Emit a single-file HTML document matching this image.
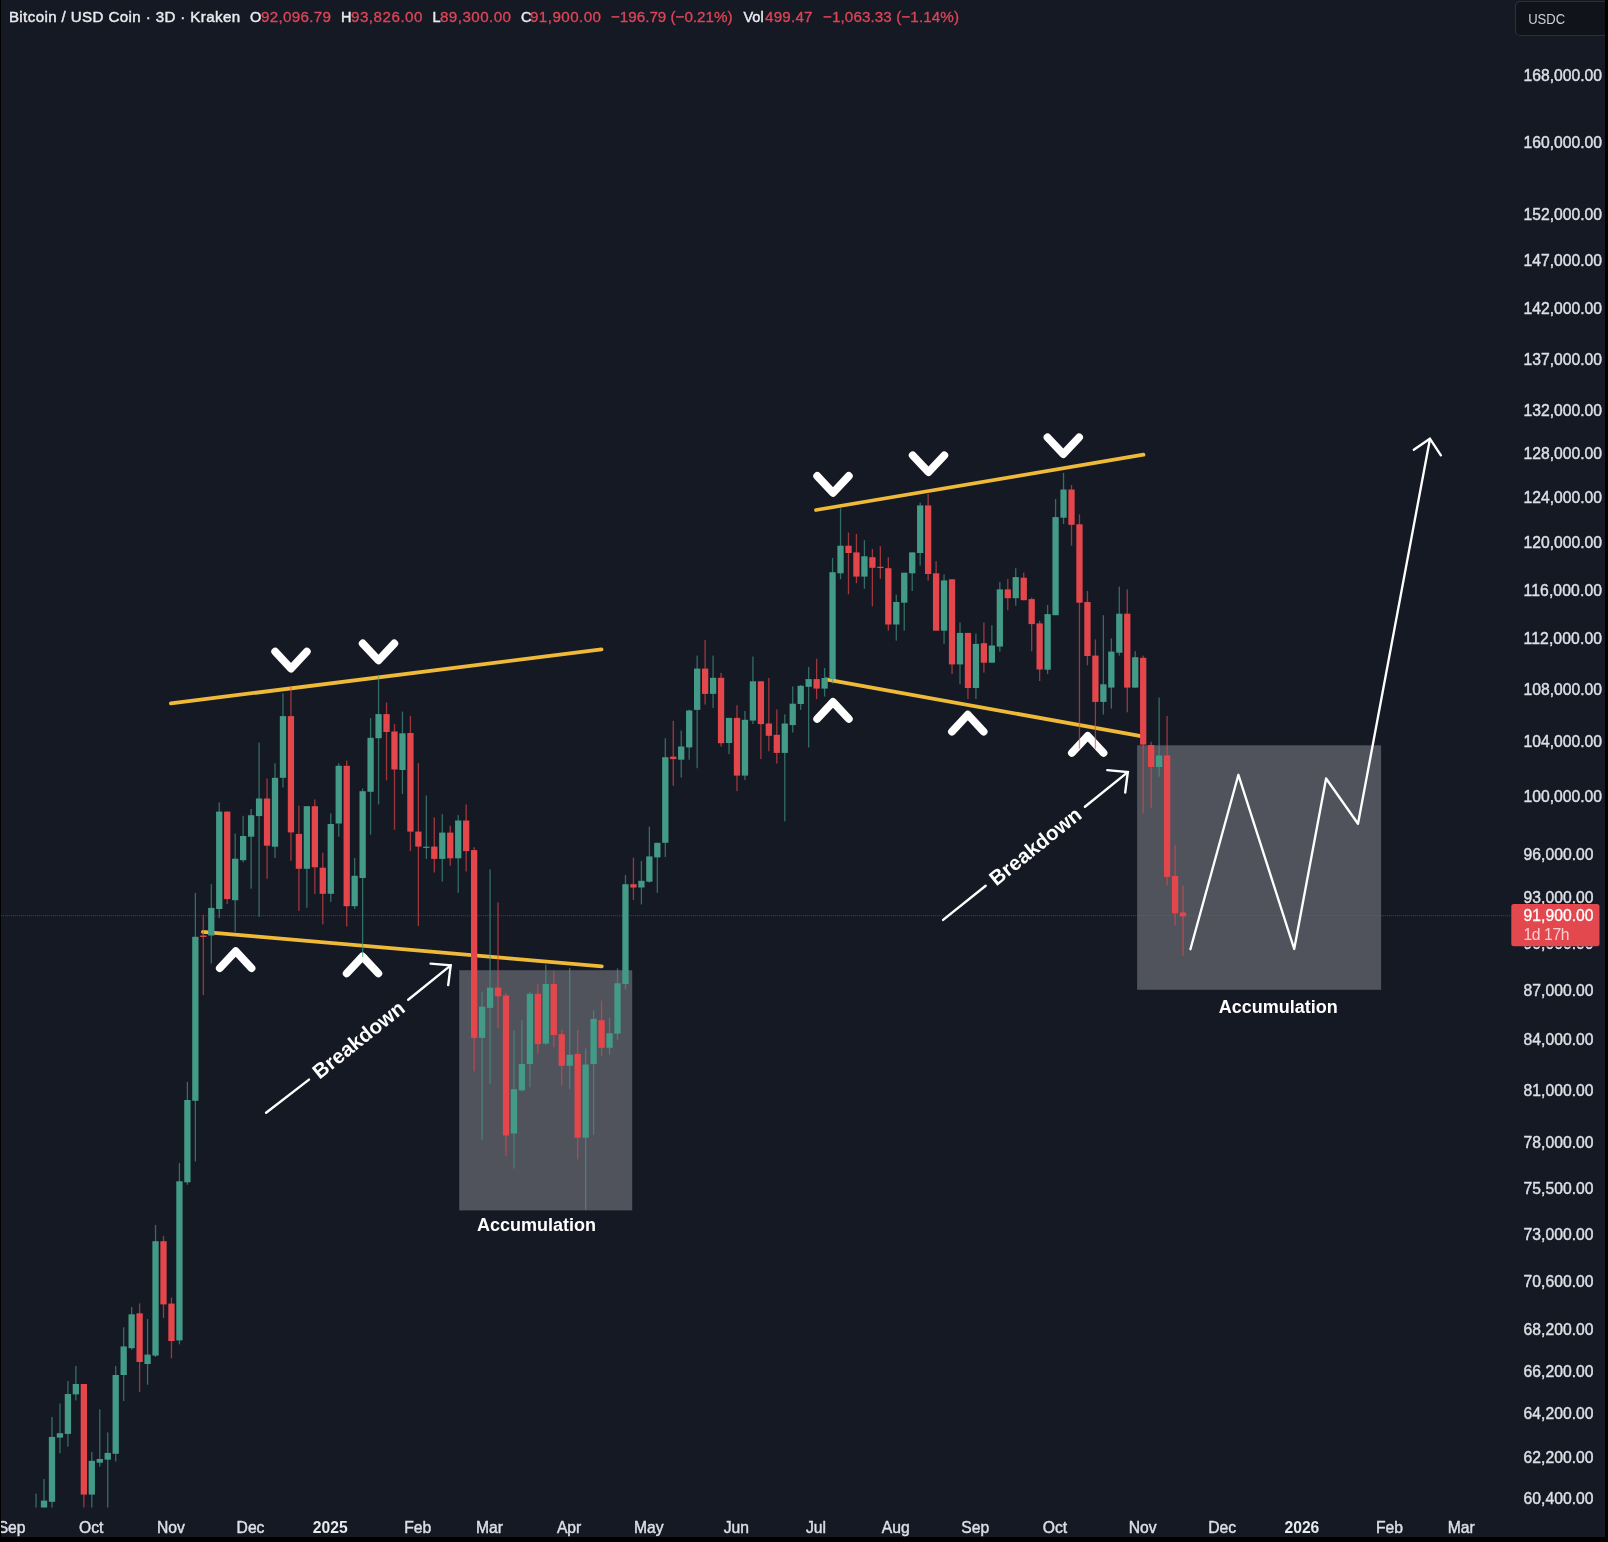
<!DOCTYPE html>
<html lang="en"><head><meta charset="utf-8"><title>Bitcoin / USD Coin chart</title>
<style>html,body{margin:0;padding:0;background:#151924;}body{width:1608px;height:1542px;overflow:hidden;}svg{display:block;filter:blur(0.45px);}text{font-family:"Liberation Sans", Arial, sans-serif;}</style>
</head><body>
<svg width="1608" height="1542" viewBox="0 0 1608 1542">
<defs><clipPath id="chartclip"><rect x="0" y="0" width="1510" height="1507.5"/></clipPath>
<clipPath id="lblclip"><rect x="1500" y="946.4" width="108" height="20"/></clipPath></defs>
<rect x="0" y="0" width="1608" height="1542" fill="#000"/>
<rect x="1" y="0" width="1604" height="1537" fill="#151924"/>
<rect x="459.2" y="970.2" width="173" height="240.2" fill="#50525c"/>
<rect x="1137.1" y="745.3" width="244" height="244.5" fill="#50525c"/>
<line x1="1" y1="915.6" x2="1137" y2="915.6" stroke="#7d2c58" stroke-width="1.3" stroke-dasharray="1.2 0.8" opacity="0.6"/>
<line x1="1137" y1="915.6" x2="1381" y2="915.6" stroke="#c2566a" stroke-width="1.3" stroke-dasharray="1 1" opacity="0.3"/>
<line x1="1381" y1="915.6" x2="1511" y2="915.6" stroke="#7d2c58" stroke-width="1.3" stroke-dasharray="1.2 0.8" opacity="0.6"/>
<line x1="170.9" y1="703.4" x2="601.5" y2="649.3" stroke="#f0ba39" stroke-width="3.8" stroke-linecap="round"/>
<line x1="202.9" y1="931.8" x2="601.8" y2="966.4" stroke="#f0ba39" stroke-width="3.8" stroke-linecap="round"/>
<line x1="816.0" y1="510.0" x2="1143.5" y2="454.7" stroke="#f0ba39" stroke-width="3.8" stroke-linecap="round"/>
<line x1="826.0" y1="679.3" x2="1141.0" y2="736.2" stroke="#f0ba39" stroke-width="3.8" stroke-linecap="round"/>
<polyline points="275.2,651.7 291.0,668.6 306.8,651.7" fill="none" stroke="#fff" stroke-width="7.8" stroke-linecap="round" stroke-linejoin="round"/>
<polyline points="362.7,643.5 378.5,660.4 394.3,643.5" fill="none" stroke="#fff" stroke-width="7.8" stroke-linecap="round" stroke-linejoin="round"/>
<polyline points="817.2,476.0 833.0,492.9 848.8,476.0" fill="none" stroke="#fff" stroke-width="7.8" stroke-linecap="round" stroke-linejoin="round"/>
<polyline points="912.7,455.3 928.5,472.2 944.3,455.3" fill="none" stroke="#fff" stroke-width="7.8" stroke-linecap="round" stroke-linejoin="round"/>
<polyline points="1047.5,437.3 1063.3,454.2 1079.1,437.3" fill="none" stroke="#fff" stroke-width="7.8" stroke-linecap="round" stroke-linejoin="round"/>
<polyline points="219.8,968.1 235.7,951.2 251.5,968.1" fill="none" stroke="#fff" stroke-width="7.8" stroke-linecap="round" stroke-linejoin="round"/>
<polyline points="346.7,973.4 362.5,956.5 378.3,973.4" fill="none" stroke="#fff" stroke-width="7.8" stroke-linecap="round" stroke-linejoin="round"/>
<polyline points="817.2,718.9 833.0,702.0 848.8,718.9" fill="none" stroke="#fff" stroke-width="7.8" stroke-linecap="round" stroke-linejoin="round"/>
<polyline points="952.0,731.6 967.8,714.7 983.6,731.6" fill="none" stroke="#fff" stroke-width="7.8" stroke-linecap="round" stroke-linejoin="round"/>
<polyline points="1071.9,752.8 1087.7,735.9 1103.5,752.8" fill="none" stroke="#fff" stroke-width="7.8" stroke-linecap="round" stroke-linejoin="round"/>
<line x1="266.1" y1="1112.8" x2="309.0" y2="1079.6" stroke="#fff" stroke-width="2.4" stroke-linecap="round"/>
<line x1="408.2" y1="999.7" x2="450.7" y2="965.4" stroke="#fff" stroke-width="2.4" stroke-linecap="round"/>
<polyline points="430.6,963.6 450.7,965.4 448.2,985.1" fill="none" stroke="#fff" stroke-width="2.4" stroke-linecap="round" stroke-linejoin="miter"/>
<text x="358.6" y="1039.7" transform="rotate(-38.61 358.6 1039.7)" text-anchor="middle" font-size="20.5" font-weight="bold" fill="#fff" dy="7" textLength="111" lengthAdjust="spacingAndGlyphs">Breakdown</text>
<line x1="943.1" y1="919.9" x2="985.7" y2="885.8" stroke="#fff" stroke-width="2.4" stroke-linecap="round"/>
<line x1="1084.9" y1="806.7" x2="1127.8" y2="772.1" stroke="#fff" stroke-width="2.4" stroke-linecap="round"/>
<polyline points="1107.3,770.1 1127.8,772.1 1125.2,792.5" fill="none" stroke="#fff" stroke-width="2.4" stroke-linecap="round" stroke-linejoin="miter"/>
<text x="1035.3" y="846.3" transform="rotate(-38.67 1035.3 846.3)" text-anchor="middle" font-size="20.5" font-weight="bold" fill="#fff" dy="7" textLength="111" lengthAdjust="spacingAndGlyphs">Breakdown</text>
<polyline points="1190.4,949.2 1238.4,774.8 1294.2,949.0 1326.1,778.5 1358,823.8 1429.9,439.2" fill="none" stroke="#fff" stroke-width="2.35" stroke-linejoin="round" stroke-linecap="round"/>
<polyline points="1413.8,449.8 1429.9,438.7 1440.9,455.3" fill="none" stroke="#fff" stroke-width="2.35" stroke-linejoin="miter" stroke-linecap="round"/>
<g clip-path="url(#chartclip)">
<rect x="35.41" y="1493.6" width="1.3" height="18.4" fill="#439a87" opacity="0.66"/>
<rect x="32.91" y="1508.0" width="6.3" height="4.0" fill="#439a87"/>
<rect x="43.38" y="1479.0" width="1.3" height="33.0" fill="#439a87" opacity="0.66"/>
<rect x="40.88" y="1500.6" width="6.3" height="11.4" fill="#439a87"/>
<rect x="51.34" y="1417.0" width="1.3" height="95.0" fill="#439a87" opacity="0.66"/>
<rect x="48.84" y="1436.9" width="6.3" height="64.9" fill="#439a87"/>
<rect x="59.30" y="1403.6" width="1.3" height="49.7" fill="#439a87" opacity="0.66"/>
<rect x="56.80" y="1433.2" width="6.3" height="4.4" fill="#439a87"/>
<rect x="67.27" y="1381.0" width="1.3" height="65.6" fill="#439a87" opacity="0.66"/>
<rect x="64.77" y="1394.0" width="6.3" height="39.9" fill="#439a87"/>
<rect x="75.23" y="1366.0" width="1.3" height="34.4" fill="#439a87" opacity="0.66"/>
<rect x="72.73" y="1384.0" width="6.3" height="10.4" fill="#439a87"/>
<rect x="83.20" y="1384.0" width="1.3" height="128.0" fill="#e3474c" opacity="0.66"/>
<rect x="80.70" y="1384.0" width="6.3" height="110.6" fill="#e3474c"/>
<rect x="91.16" y="1451.8" width="1.3" height="60.2" fill="#439a87" opacity="0.66"/>
<rect x="88.66" y="1460.8" width="6.3" height="33.8" fill="#439a87"/>
<rect x="99.13" y="1409.3" width="1.3" height="57.4" fill="#439a87" opacity="0.66"/>
<rect x="96.63" y="1459.0" width="6.3" height="3.7" fill="#439a87"/>
<rect x="107.09" y="1432.4" width="1.3" height="79.6" fill="#439a87" opacity="0.66"/>
<rect x="104.59" y="1452.9" width="6.3" height="6.8" fill="#439a87"/>
<rect x="115.06" y="1366.0" width="1.3" height="95.5" fill="#439a87" opacity="0.66"/>
<rect x="112.56" y="1375.0" width="6.3" height="78.8" fill="#439a87"/>
<rect x="123.02" y="1327.3" width="1.3" height="73.7" fill="#439a87" opacity="0.66"/>
<rect x="120.52" y="1346.4" width="6.3" height="28.6" fill="#439a87"/>
<rect x="130.99" y="1307.0" width="1.3" height="42.7" fill="#439a87" opacity="0.66"/>
<rect x="128.49" y="1314.3" width="6.3" height="33.9" fill="#439a87"/>
<rect x="138.96" y="1303.4" width="1.3" height="88.6" fill="#e3474c" opacity="0.66"/>
<rect x="136.46" y="1313.3" width="6.3" height="48.7" fill="#e3474c"/>
<rect x="146.92" y="1319.0" width="1.3" height="65.7" fill="#439a87" opacity="0.66"/>
<rect x="144.42" y="1354.6" width="6.3" height="9.4" fill="#439a87"/>
<rect x="154.88" y="1225.0" width="1.3" height="132.0" fill="#439a87" opacity="0.66"/>
<rect x="152.38" y="1241.2" width="6.3" height="114.4" fill="#439a87"/>
<rect x="162.85" y="1235.8" width="1.3" height="82.2" fill="#e3474c" opacity="0.66"/>
<rect x="160.35" y="1241.2" width="6.3" height="63.2" fill="#e3474c"/>
<rect x="170.81" y="1297.5" width="1.3" height="60.8" fill="#e3474c" opacity="0.66"/>
<rect x="168.31" y="1303.6" width="6.3" height="37.4" fill="#e3474c"/>
<rect x="178.78" y="1163.0" width="1.3" height="181.3" fill="#439a87" opacity="0.66"/>
<rect x="176.28" y="1181.3" width="6.3" height="159.1" fill="#439a87"/>
<rect x="186.75" y="1081.8" width="1.3" height="103.0" fill="#439a87" opacity="0.66"/>
<rect x="184.25" y="1100.0" width="6.3" height="82.3" fill="#439a87"/>
<rect x="194.71" y="893.0" width="1.3" height="268.4" fill="#439a87" opacity="0.66"/>
<rect x="192.21" y="936.8" width="6.3" height="164.0" fill="#439a87"/>
<rect x="202.67" y="914.8" width="1.3" height="80.2" fill="#e3474c" opacity="0.66"/>
<rect x="200.17" y="935.5" width="6.3" height="1.5" fill="#e3474c"/>
<rect x="210.64" y="884.2" width="1.3" height="79.3" fill="#439a87" opacity="0.66"/>
<rect x="208.14" y="907.9" width="6.3" height="27.6" fill="#439a87"/>
<rect x="218.60" y="802.4" width="1.3" height="115.6" fill="#439a87" opacity="0.66"/>
<rect x="216.10" y="811.6" width="6.3" height="97.4" fill="#439a87"/>
<rect x="226.57" y="811.6" width="1.3" height="92.4" fill="#e3474c" opacity="0.66"/>
<rect x="224.07" y="811.6" width="6.3" height="87.5" fill="#e3474c"/>
<rect x="234.53" y="833.5" width="1.3" height="98.4" fill="#439a87" opacity="0.66"/>
<rect x="232.03" y="858.7" width="6.3" height="41.5" fill="#439a87"/>
<rect x="242.50" y="815.8" width="1.3" height="46.6" fill="#439a87" opacity="0.66"/>
<rect x="240.00" y="836.0" width="6.3" height="24.2" fill="#439a87"/>
<rect x="250.47" y="809.0" width="1.3" height="79.7" fill="#439a87" opacity="0.66"/>
<rect x="247.97" y="815.2" width="6.3" height="21.5" fill="#439a87"/>
<rect x="258.43" y="742.7" width="1.3" height="174.2" fill="#439a87" opacity="0.66"/>
<rect x="255.93" y="798.5" width="6.3" height="17.6" fill="#439a87"/>
<rect x="266.39" y="778.5" width="1.3" height="100.3" fill="#e3474c" opacity="0.66"/>
<rect x="263.89" y="798.5" width="6.3" height="47.2" fill="#e3474c"/>
<rect x="274.36" y="763.3" width="1.3" height="94.7" fill="#439a87" opacity="0.66"/>
<rect x="271.86" y="777.8" width="6.3" height="68.9" fill="#439a87"/>
<rect x="282.33" y="693.4" width="1.3" height="94.1" fill="#439a87" opacity="0.66"/>
<rect x="279.83" y="716.1" width="6.3" height="61.7" fill="#439a87"/>
<rect x="290.29" y="686.4" width="1.3" height="174.5" fill="#e3474c" opacity="0.66"/>
<rect x="287.79" y="716.1" width="6.3" height="116.3" fill="#e3474c"/>
<rect x="298.25" y="805.5" width="1.3" height="105.4" fill="#e3474c" opacity="0.66"/>
<rect x="295.75" y="833.9" width="6.3" height="34.9" fill="#e3474c"/>
<rect x="306.22" y="806.2" width="1.3" height="101.5" fill="#439a87" opacity="0.66"/>
<rect x="303.72" y="806.2" width="6.3" height="62.6" fill="#439a87"/>
<rect x="314.19" y="799.5" width="1.3" height="94.5" fill="#e3474c" opacity="0.66"/>
<rect x="311.69" y="806.2" width="6.3" height="61.1" fill="#e3474c"/>
<rect x="322.15" y="852.7" width="1.3" height="71.7" fill="#e3474c" opacity="0.66"/>
<rect x="319.65" y="867.7" width="6.3" height="26.1" fill="#e3474c"/>
<rect x="330.12" y="813.4" width="1.3" height="88.5" fill="#439a87" opacity="0.66"/>
<rect x="327.62" y="824.0" width="6.3" height="69.8" fill="#439a87"/>
<rect x="338.08" y="763.3" width="1.3" height="73.4" fill="#439a87" opacity="0.66"/>
<rect x="335.58" y="765.8" width="6.3" height="57.7" fill="#439a87"/>
<rect x="346.05" y="760.6" width="1.3" height="165.9" fill="#e3474c" opacity="0.66"/>
<rect x="343.55" y="765.8" width="6.3" height="140.4" fill="#e3474c"/>
<rect x="354.01" y="858.0" width="1.3" height="51.0" fill="#439a87" opacity="0.66"/>
<rect x="351.51" y="875.8" width="6.3" height="30.4" fill="#439a87"/>
<rect x="361.98" y="788.5" width="1.3" height="168.5" fill="#439a87" opacity="0.66"/>
<rect x="359.48" y="791.2" width="6.3" height="86.8" fill="#439a87"/>
<rect x="369.94" y="718.0" width="1.3" height="116.6" fill="#439a87" opacity="0.66"/>
<rect x="367.44" y="737.8" width="6.3" height="54.0" fill="#439a87"/>
<rect x="377.91" y="676.2" width="1.3" height="128.2" fill="#439a87" opacity="0.66"/>
<rect x="375.41" y="714.1" width="6.3" height="24.1" fill="#439a87"/>
<rect x="385.87" y="702.5" width="1.3" height="77.9" fill="#e3474c" opacity="0.66"/>
<rect x="383.37" y="714.1" width="6.3" height="17.9" fill="#e3474c"/>
<rect x="393.84" y="724.2" width="1.3" height="105.5" fill="#e3474c" opacity="0.66"/>
<rect x="391.34" y="731.5" width="6.3" height="38.0" fill="#e3474c"/>
<rect x="401.80" y="711.6" width="1.3" height="82.4" fill="#439a87" opacity="0.66"/>
<rect x="399.30" y="733.3" width="6.3" height="36.7" fill="#439a87"/>
<rect x="409.77" y="715.9" width="1.3" height="135.1" fill="#e3474c" opacity="0.66"/>
<rect x="407.27" y="733.0" width="6.3" height="98.6" fill="#e3474c"/>
<rect x="417.73" y="763.0" width="1.3" height="163.0" fill="#e3474c" opacity="0.66"/>
<rect x="415.23" y="831.6" width="6.3" height="15.0" fill="#e3474c"/>
<rect x="425.69" y="795.6" width="1.3" height="63.3" fill="#439a87" opacity="0.66"/>
<rect x="423.19" y="846.7" width="6.3" height="1.2" fill="#439a87"/>
<rect x="433.66" y="817.4" width="1.3" height="55.1" fill="#e3474c" opacity="0.66"/>
<rect x="431.16" y="846.6" width="6.3" height="12.3" fill="#e3474c"/>
<rect x="441.62" y="814.1" width="1.3" height="67.5" fill="#439a87" opacity="0.66"/>
<rect x="439.12" y="832.6" width="6.3" height="26.3" fill="#439a87"/>
<rect x="449.59" y="825.8" width="1.3" height="39.9" fill="#e3474c" opacity="0.66"/>
<rect x="447.09" y="832.6" width="6.3" height="25.7" fill="#e3474c"/>
<rect x="457.56" y="815.1" width="1.3" height="77.8" fill="#439a87" opacity="0.66"/>
<rect x="455.06" y="820.5" width="6.3" height="37.8" fill="#439a87"/>
<rect x="465.52" y="804.4" width="1.3" height="67.1" fill="#e3474c" opacity="0.66"/>
<rect x="463.02" y="820.5" width="6.3" height="30.6" fill="#e3474c"/>
<rect x="473.49" y="847.2" width="1.3" height="224.2" fill="#e3474c" opacity="0.66"/>
<rect x="470.99" y="850.1" width="6.3" height="187.8" fill="#e3474c"/>
<rect x="481.45" y="991.8" width="1.3" height="147.9" fill="#439a87" opacity="0.66"/>
<rect x="478.95" y="1006.6" width="6.3" height="31.3" fill="#439a87"/>
<rect x="489.42" y="869.4" width="1.3" height="214.8" fill="#439a87" opacity="0.66"/>
<rect x="486.92" y="987.6" width="6.3" height="20.3" fill="#439a87"/>
<rect x="497.38" y="902.4" width="1.3" height="125.6" fill="#e3474c" opacity="0.66"/>
<rect x="494.88" y="987.6" width="6.3" height="8.7" fill="#e3474c"/>
<rect x="505.35" y="993.0" width="1.3" height="162.7" fill="#e3474c" opacity="0.66"/>
<rect x="502.85" y="995.5" width="6.3" height="140.0" fill="#e3474c"/>
<rect x="513.31" y="1030.5" width="1.3" height="138.0" fill="#439a87" opacity="0.66"/>
<rect x="510.81" y="1089.2" width="6.3" height="44.3" fill="#439a87"/>
<rect x="521.27" y="1020.2" width="1.3" height="71.4" fill="#439a87" opacity="0.66"/>
<rect x="518.77" y="1064.0" width="6.3" height="26.4" fill="#439a87"/>
<rect x="529.24" y="991.8" width="1.3" height="95.4" fill="#439a87" opacity="0.66"/>
<rect x="526.74" y="993.8" width="6.3" height="70.2" fill="#439a87"/>
<rect x="537.21" y="984.4" width="1.3" height="69.0" fill="#e3474c" opacity="0.66"/>
<rect x="534.71" y="993.8" width="6.3" height="50.3" fill="#e3474c"/>
<rect x="545.17" y="964.7" width="1.3" height="80.1" fill="#439a87" opacity="0.66"/>
<rect x="542.67" y="984.0" width="6.3" height="59.6" fill="#439a87"/>
<rect x="553.14" y="970.9" width="1.3" height="76.4" fill="#e3474c" opacity="0.66"/>
<rect x="550.64" y="984.0" width="6.3" height="51.0" fill="#e3474c"/>
<rect x="561.10" y="1030.0" width="1.3" height="55.5" fill="#e3474c" opacity="0.66"/>
<rect x="558.60" y="1034.2" width="6.3" height="31.6" fill="#e3474c"/>
<rect x="569.06" y="967.9" width="1.3" height="121.3" fill="#439a87" opacity="0.66"/>
<rect x="566.56" y="1054.7" width="6.3" height="11.1" fill="#439a87"/>
<rect x="577.03" y="1030.0" width="1.3" height="129.4" fill="#e3474c" opacity="0.66"/>
<rect x="574.53" y="1053.9" width="6.3" height="83.8" fill="#e3474c"/>
<rect x="585.00" y="1048.5" width="1.3" height="161.4" fill="#439a87" opacity="0.66"/>
<rect x="582.50" y="1064.5" width="6.3" height="73.2" fill="#439a87"/>
<rect x="592.96" y="1010.3" width="1.3" height="124.5" fill="#439a87" opacity="0.66"/>
<rect x="590.46" y="1018.9" width="6.3" height="45.1" fill="#439a87"/>
<rect x="600.93" y="1000.5" width="1.3" height="55.4" fill="#e3474c" opacity="0.66"/>
<rect x="598.43" y="1020.2" width="6.3" height="27.6" fill="#e3474c"/>
<rect x="608.89" y="1017.7" width="1.3" height="37.0" fill="#439a87" opacity="0.66"/>
<rect x="606.39" y="1033.2" width="6.3" height="14.6" fill="#439a87"/>
<rect x="616.85" y="968.4" width="1.3" height="71.5" fill="#439a87" opacity="0.66"/>
<rect x="614.35" y="983.2" width="6.3" height="50.5" fill="#439a87"/>
<rect x="624.82" y="875.0" width="1.3" height="114.4" fill="#439a87" opacity="0.66"/>
<rect x="622.32" y="884.2" width="6.3" height="99.8" fill="#439a87"/>
<rect x="632.78" y="857.7" width="1.3" height="42.3" fill="#e3474c" opacity="0.66"/>
<rect x="630.28" y="884.2" width="6.3" height="3.3" fill="#e3474c"/>
<rect x="640.75" y="860.9" width="1.3" height="43.5" fill="#439a87" opacity="0.66"/>
<rect x="638.25" y="880.8" width="6.3" height="6.7" fill="#439a87"/>
<rect x="648.72" y="826.6" width="1.3" height="56.0" fill="#439a87" opacity="0.66"/>
<rect x="646.22" y="856.4" width="6.3" height="25.3" fill="#439a87"/>
<rect x="656.68" y="842.8" width="1.3" height="50.0" fill="#439a87" opacity="0.66"/>
<rect x="654.18" y="842.8" width="6.3" height="14.6" fill="#439a87"/>
<rect x="664.65" y="738.3" width="1.3" height="118.7" fill="#439a87" opacity="0.66"/>
<rect x="662.15" y="757.2" width="6.3" height="85.6" fill="#439a87"/>
<rect x="672.61" y="720.8" width="1.3" height="65.0" fill="#e3474c" opacity="0.66"/>
<rect x="670.11" y="756.6" width="6.3" height="2.5" fill="#e3474c"/>
<rect x="680.57" y="730.5" width="1.3" height="47.1" fill="#439a87" opacity="0.66"/>
<rect x="678.07" y="746.5" width="6.3" height="13.2" fill="#439a87"/>
<rect x="688.54" y="709.5" width="1.3" height="50.2" fill="#439a87" opacity="0.66"/>
<rect x="686.04" y="710.5" width="6.3" height="36.9" fill="#439a87"/>
<rect x="696.50" y="655.6" width="1.3" height="112.6" fill="#439a87" opacity="0.66"/>
<rect x="694.00" y="668.6" width="6.3" height="41.3" fill="#439a87"/>
<rect x="704.47" y="640.0" width="1.3" height="64.6" fill="#e3474c" opacity="0.66"/>
<rect x="701.97" y="668.6" width="6.3" height="25.3" fill="#e3474c"/>
<rect x="712.44" y="655.6" width="1.3" height="52.3" fill="#439a87" opacity="0.66"/>
<rect x="709.94" y="677.8" width="6.3" height="16.1" fill="#439a87"/>
<rect x="720.40" y="672.9" width="1.3" height="73.6" fill="#e3474c" opacity="0.66"/>
<rect x="717.90" y="677.8" width="6.3" height="65.4" fill="#e3474c"/>
<rect x="728.37" y="717.9" width="1.3" height="36.3" fill="#439a87" opacity="0.66"/>
<rect x="725.87" y="717.9" width="6.3" height="25.1" fill="#439a87"/>
<rect x="736.33" y="705.2" width="1.3" height="86.0" fill="#e3474c" opacity="0.66"/>
<rect x="733.83" y="717.9" width="6.3" height="57.7" fill="#e3474c"/>
<rect x="744.29" y="711.0" width="1.3" height="68.9" fill="#439a87" opacity="0.66"/>
<rect x="741.79" y="719.8" width="6.3" height="55.8" fill="#439a87"/>
<rect x="752.26" y="656.6" width="1.3" height="67.5" fill="#439a87" opacity="0.66"/>
<rect x="749.76" y="681.3" width="6.3" height="39.3" fill="#439a87"/>
<rect x="760.23" y="681.3" width="1.3" height="77.8" fill="#e3474c" opacity="0.66"/>
<rect x="757.73" y="681.3" width="6.3" height="42.8" fill="#e3474c"/>
<rect x="768.19" y="678.0" width="1.3" height="73.3" fill="#e3474c" opacity="0.66"/>
<rect x="765.69" y="723.5" width="6.3" height="12.3" fill="#e3474c"/>
<rect x="776.16" y="709.5" width="1.3" height="54.1" fill="#e3474c" opacity="0.66"/>
<rect x="773.66" y="734.8" width="6.3" height="18.1" fill="#e3474c"/>
<rect x="784.12" y="714.4" width="1.3" height="107.0" fill="#439a87" opacity="0.66"/>
<rect x="781.62" y="723.5" width="6.3" height="29.4" fill="#439a87"/>
<rect x="792.08" y="686.5" width="1.3" height="46.0" fill="#439a87" opacity="0.66"/>
<rect x="789.58" y="703.7" width="6.3" height="21.4" fill="#439a87"/>
<rect x="800.05" y="685.0" width="1.3" height="24.9" fill="#439a87" opacity="0.66"/>
<rect x="797.55" y="685.8" width="6.3" height="18.2" fill="#439a87"/>
<rect x="808.01" y="666.9" width="1.3" height="80.6" fill="#439a87" opacity="0.66"/>
<rect x="805.51" y="679.1" width="6.3" height="7.7" fill="#439a87"/>
<rect x="815.98" y="658.8" width="1.3" height="40.2" fill="#e3474c" opacity="0.66"/>
<rect x="813.48" y="679.1" width="6.3" height="9.5" fill="#e3474c"/>
<rect x="823.95" y="668.0" width="1.3" height="28.6" fill="#439a87" opacity="0.66"/>
<rect x="821.45" y="678.0" width="6.3" height="10.6" fill="#439a87"/>
<rect x="831.91" y="557.9" width="1.3" height="125.7" fill="#439a87" opacity="0.66"/>
<rect x="829.41" y="572.2" width="6.3" height="106.8" fill="#439a87"/>
<rect x="839.88" y="508.2" width="1.3" height="71.1" fill="#439a87" opacity="0.66"/>
<rect x="837.38" y="545.7" width="6.3" height="27.6" fill="#439a87"/>
<rect x="847.84" y="532.5" width="1.3" height="61.8" fill="#e3474c" opacity="0.66"/>
<rect x="845.34" y="545.7" width="6.3" height="7.3" fill="#e3474c"/>
<rect x="855.80" y="534.0" width="1.3" height="49.2" fill="#e3474c" opacity="0.66"/>
<rect x="853.30" y="552.4" width="6.3" height="24.2" fill="#e3474c"/>
<rect x="863.77" y="540.2" width="1.3" height="48.6" fill="#439a87" opacity="0.66"/>
<rect x="861.27" y="556.3" width="6.3" height="20.3" fill="#439a87"/>
<rect x="871.74" y="549.0" width="1.3" height="57.4" fill="#e3474c" opacity="0.66"/>
<rect x="869.24" y="557.2" width="6.3" height="10.6" fill="#e3474c"/>
<rect x="879.70" y="546.2" width="1.3" height="32.6" fill="#e3474c" opacity="0.66"/>
<rect x="877.20" y="566.8" width="6.3" height="1.2" fill="#e3474c"/>
<rect x="887.67" y="557.2" width="1.3" height="73.5" fill="#e3474c" opacity="0.66"/>
<rect x="885.17" y="568.2" width="6.3" height="56.3" fill="#e3474c"/>
<rect x="895.63" y="594.7" width="1.3" height="45.9" fill="#439a87" opacity="0.66"/>
<rect x="893.13" y="602.0" width="6.3" height="22.5" fill="#439a87"/>
<rect x="903.59" y="572.7" width="1.3" height="58.0" fill="#439a87" opacity="0.66"/>
<rect x="901.09" y="572.7" width="6.3" height="30.0" fill="#439a87"/>
<rect x="911.56" y="552.4" width="1.3" height="38.6" fill="#439a87" opacity="0.66"/>
<rect x="909.06" y="552.4" width="6.3" height="20.9" fill="#439a87"/>
<rect x="919.52" y="502.7" width="1.3" height="62.9" fill="#439a87" opacity="0.66"/>
<rect x="917.02" y="505.4" width="6.3" height="47.6" fill="#439a87"/>
<rect x="927.49" y="493.9" width="1.3" height="86.7" fill="#e3474c" opacity="0.66"/>
<rect x="924.99" y="505.4" width="6.3" height="68.6" fill="#e3474c"/>
<rect x="935.46" y="561.2" width="1.3" height="69.5" fill="#e3474c" opacity="0.66"/>
<rect x="932.96" y="573.3" width="6.3" height="57.4" fill="#e3474c"/>
<rect x="943.42" y="574.4" width="1.3" height="69.5" fill="#439a87" opacity="0.66"/>
<rect x="940.92" y="580.4" width="6.3" height="50.3" fill="#439a87"/>
<rect x="951.39" y="579.3" width="1.3" height="94.8" fill="#e3474c" opacity="0.66"/>
<rect x="948.89" y="579.3" width="6.3" height="85.1" fill="#e3474c"/>
<rect x="959.35" y="622.5" width="1.3" height="61.8" fill="#439a87" opacity="0.66"/>
<rect x="956.85" y="632.9" width="6.3" height="31.5" fill="#439a87"/>
<rect x="967.31" y="632.9" width="1.3" height="66.2" fill="#e3474c" opacity="0.66"/>
<rect x="964.81" y="632.9" width="6.3" height="55.1" fill="#e3474c"/>
<rect x="975.28" y="633.5" width="1.3" height="65.6" fill="#439a87" opacity="0.66"/>
<rect x="972.78" y="643.9" width="6.3" height="44.1" fill="#439a87"/>
<rect x="983.25" y="622.5" width="1.3" height="50.1" fill="#e3474c" opacity="0.66"/>
<rect x="980.75" y="643.2" width="6.3" height="19.5" fill="#e3474c"/>
<rect x="991.21" y="625.2" width="1.3" height="37.5" fill="#439a87" opacity="0.66"/>
<rect x="988.71" y="645.5" width="6.3" height="17.2" fill="#439a87"/>
<rect x="999.18" y="582.1" width="1.3" height="69.5" fill="#439a87" opacity="0.66"/>
<rect x="996.68" y="589.4" width="6.3" height="57.2" fill="#439a87"/>
<rect x="1007.14" y="578.8" width="1.3" height="31.4" fill="#e3474c" opacity="0.66"/>
<rect x="1004.64" y="589.4" width="6.3" height="8.8" fill="#e3474c"/>
<rect x="1015.10" y="568.2" width="1.3" height="37.5" fill="#439a87" opacity="0.66"/>
<rect x="1012.60" y="577.1" width="6.3" height="21.1" fill="#439a87"/>
<rect x="1023.07" y="572.7" width="1.3" height="27.5" fill="#e3474c" opacity="0.66"/>
<rect x="1020.57" y="577.7" width="6.3" height="22.5" fill="#e3474c"/>
<rect x="1031.03" y="597.6" width="1.3" height="53.6" fill="#e3474c" opacity="0.66"/>
<rect x="1028.53" y="599.1" width="6.3" height="25.0" fill="#e3474c"/>
<rect x="1039.00" y="620.7" width="1.3" height="60.3" fill="#e3474c" opacity="0.66"/>
<rect x="1036.50" y="623.4" width="6.3" height="46.1" fill="#e3474c"/>
<rect x="1046.96" y="604.9" width="1.3" height="69.2" fill="#439a87" opacity="0.66"/>
<rect x="1044.46" y="614.1" width="6.3" height="55.6" fill="#439a87"/>
<rect x="1054.93" y="499.0" width="1.3" height="116.2" fill="#439a87" opacity="0.66"/>
<rect x="1052.43" y="517.1" width="6.3" height="98.1" fill="#439a87"/>
<rect x="1062.89" y="472.9" width="1.3" height="51.2" fill="#439a87" opacity="0.66"/>
<rect x="1060.39" y="489.5" width="6.3" height="28.2" fill="#439a87"/>
<rect x="1070.86" y="485.1" width="1.3" height="60.6" fill="#e3474c" opacity="0.66"/>
<rect x="1068.36" y="489.5" width="6.3" height="35.3" fill="#e3474c"/>
<rect x="1078.82" y="514.4" width="1.3" height="234.3" fill="#e3474c" opacity="0.66"/>
<rect x="1076.32" y="524.3" width="6.3" height="78.4" fill="#e3474c"/>
<rect x="1086.79" y="591.0" width="1.3" height="74.3" fill="#e3474c" opacity="0.66"/>
<rect x="1084.29" y="602.0" width="6.3" height="54.0" fill="#e3474c"/>
<rect x="1094.75" y="639.5" width="1.3" height="109.2" fill="#e3474c" opacity="0.66"/>
<rect x="1092.25" y="655.6" width="6.3" height="46.3" fill="#e3474c"/>
<rect x="1102.72" y="615.2" width="1.3" height="99.3" fill="#439a87" opacity="0.66"/>
<rect x="1100.22" y="684.3" width="6.3" height="17.6" fill="#439a87"/>
<rect x="1110.68" y="638.4" width="1.3" height="70.2" fill="#439a87" opacity="0.66"/>
<rect x="1108.18" y="651.6" width="6.3" height="36.0" fill="#439a87"/>
<rect x="1118.65" y="586.6" width="1.3" height="69.0" fill="#439a87" opacity="0.66"/>
<rect x="1116.15" y="613.7" width="6.3" height="39.0" fill="#439a87"/>
<rect x="1126.61" y="589.4" width="1.3" height="122.9" fill="#e3474c" opacity="0.66"/>
<rect x="1124.11" y="613.7" width="6.3" height="73.9" fill="#e3474c"/>
<rect x="1134.58" y="651.2" width="1.3" height="36.4" fill="#439a87" opacity="0.66"/>
<rect x="1132.08" y="657.2" width="6.3" height="30.4" fill="#439a87"/>
<rect x="1142.54" y="655.6" width="1.3" height="157.7" fill="#e3474c" opacity="0.66"/>
<rect x="1140.04" y="657.8" width="6.3" height="86.8" fill="#e3474c"/>
<rect x="1150.51" y="741.7" width="1.3" height="66.1" fill="#e3474c" opacity="0.66"/>
<rect x="1148.01" y="745.0" width="6.3" height="22.0" fill="#e3474c"/>
<rect x="1158.47" y="697.5" width="1.3" height="79.2" fill="#439a87" opacity="0.66"/>
<rect x="1155.97" y="755.5" width="6.3" height="11.5" fill="#439a87"/>
<rect x="1166.44" y="716.0" width="1.3" height="169.7" fill="#e3474c" opacity="0.66"/>
<rect x="1163.94" y="755.5" width="6.3" height="121.4" fill="#e3474c"/>
<rect x="1174.40" y="844.8" width="1.3" height="80.8" fill="#e3474c" opacity="0.66"/>
<rect x="1171.90" y="875.9" width="6.3" height="37.4" fill="#e3474c"/>
<rect x="1182.37" y="885.7" width="1.3" height="70.0" fill="#e3474c" opacity="0.66"/>
<rect x="1179.87" y="912.5" width="6.3" height="3.9" fill="#e3474c"/>
</g>
<text x="536.6" y="1230.5" text-anchor="middle" font-size="18" font-weight="bold" fill="#fff">Accumulation</text>
<text x="1278.2" y="1012.6" text-anchor="middle" font-size="18" font-weight="bold" fill="#fff">Accumulation</text>
<text x="8.9" y="22.2" font-size="15.1" fill="#e9eaee" textLength="231.3" lengthAdjust="spacing" stroke="#e9eaee" stroke-width="0.45">Bitcoin / USD Coin · 3D · Kraken</text>
<text x="249.9" y="22.3" font-size="14.5" fill="#e9eaee" stroke="#e9eaee" stroke-width="0.45">O</text>
<text x="261.0" y="22.3" font-size="15.2" fill="#df4557" stroke="#df4557" stroke-width="0.3" textLength="70.0" lengthAdjust="spacing">92,096.79</text>
<text x="341.0" y="22.3" font-size="14.5" fill="#e9eaee" stroke="#e9eaee" stroke-width="0.45">H</text>
<text x="351.0" y="22.3" font-size="15.2" fill="#df4557" stroke="#df4557" stroke-width="0.3" textLength="71.5" lengthAdjust="spacing">93,826.00</text>
<text x="432.5" y="22.3" font-size="14.5" fill="#e9eaee" stroke="#e9eaee" stroke-width="0.45">L</text>
<text x="440.0" y="22.3" font-size="15.2" fill="#df4557" stroke="#df4557" stroke-width="0.3" textLength="71.0" lengthAdjust="spacing">89,300.00</text>
<text x="521.0" y="22.3" font-size="14.5" fill="#e9eaee" stroke="#e9eaee" stroke-width="0.45">C</text>
<text x="530.0" y="22.3" font-size="15.2" fill="#df4557" stroke="#df4557" stroke-width="0.3" textLength="71.0" lengthAdjust="spacing">91,900.00</text>
<text x="611.0" y="22.3" font-size="15.2" fill="#df4557" stroke="#df4557" stroke-width="0.3" textLength="121.5" lengthAdjust="spacing">−196.79 (−0.21%)</text>
<text x="743.5" y="22.3" font-size="14.5" fill="#e9eaee" stroke="#e9eaee" stroke-width="0.45">Vol</text>
<text x="765.0" y="22.3" font-size="15.2" fill="#df4557" stroke="#df4557" stroke-width="0.3" textLength="47.5" lengthAdjust="spacing">499.47</text>
<text x="823.0" y="22.3" font-size="15.2" fill="#df4557" stroke="#df4557" stroke-width="0.3" textLength="136.0" lengthAdjust="spacing">−1,063.33 (−1.14%)</text>
<rect x="1515.5" y="1.5" width="100" height="34" rx="4.5" ry="4.5" fill="#101319" stroke="#2b2f3a" stroke-width="1.2"/>
<text x="1528.2" y="23.9" font-size="14.2" fill="#cdd0d6" textLength="37" lengthAdjust="spacingAndGlyphs">USDC</text>
<text x="1523.5" y="80.8" font-size="15.7" fill="#dddfe5" text-anchor="start" font-weight="normal" textLength="78.5" lengthAdjust="spacing" stroke="#dddfe5" stroke-width="0.45">168,000.00</text>
<text x="1523.5" y="148.2" font-size="15.7" fill="#dddfe5" text-anchor="start" font-weight="normal" textLength="78.5" lengthAdjust="spacing" stroke="#dddfe5" stroke-width="0.45">160,000.00</text>
<text x="1523.5" y="220.3" font-size="15.7" fill="#dddfe5" text-anchor="start" font-weight="normal" textLength="78.5" lengthAdjust="spacing" stroke="#dddfe5" stroke-width="0.45">152,000.00</text>
<text x="1523.5" y="266.2" font-size="15.7" fill="#dddfe5" text-anchor="start" font-weight="normal" textLength="78.5" lengthAdjust="spacing" stroke="#dddfe5" stroke-width="0.45">147,000.00</text>
<text x="1523.5" y="314.1" font-size="15.7" fill="#dddfe5" text-anchor="start" font-weight="normal" textLength="78.5" lengthAdjust="spacing" stroke="#dddfe5" stroke-width="0.45">142,000.00</text>
<text x="1523.5" y="364.7" font-size="15.7" fill="#dddfe5" text-anchor="start" font-weight="normal" textLength="78.5" lengthAdjust="spacing" stroke="#dddfe5" stroke-width="0.45">137,000.00</text>
<text x="1523.5" y="416.2" font-size="15.7" fill="#dddfe5" text-anchor="start" font-weight="normal" textLength="78.5" lengthAdjust="spacing" stroke="#dddfe5" stroke-width="0.45">132,000.00</text>
<text x="1523.5" y="459.0" font-size="15.7" fill="#dddfe5" text-anchor="start" font-weight="normal" textLength="78.5" lengthAdjust="spacing" stroke="#dddfe5" stroke-width="0.45">128,000.00</text>
<text x="1523.5" y="502.8" font-size="15.7" fill="#dddfe5" text-anchor="start" font-weight="normal" textLength="78.5" lengthAdjust="spacing" stroke="#dddfe5" stroke-width="0.45">124,000.00</text>
<text x="1523.5" y="548.4" font-size="15.7" fill="#dddfe5" text-anchor="start" font-weight="normal" textLength="78.5" lengthAdjust="spacing" stroke="#dddfe5" stroke-width="0.45">120,000.00</text>
<text x="1523.5" y="595.6" font-size="15.7" fill="#dddfe5" text-anchor="start" font-weight="normal" textLength="78.5" lengthAdjust="spacing" stroke="#dddfe5" stroke-width="0.45">116,000.00</text>
<text x="1523.5" y="644.4" font-size="15.7" fill="#dddfe5" text-anchor="start" font-weight="normal" textLength="78.5" lengthAdjust="spacing" stroke="#dddfe5" stroke-width="0.45">112,000.00</text>
<text x="1523.5" y="694.6" font-size="15.7" fill="#dddfe5" text-anchor="start" font-weight="normal" textLength="78.5" lengthAdjust="spacing" stroke="#dddfe5" stroke-width="0.45">108,000.00</text>
<text x="1523.5" y="746.8" font-size="15.7" fill="#dddfe5" text-anchor="start" font-weight="normal" textLength="78.5" lengthAdjust="spacing" stroke="#dddfe5" stroke-width="0.45">104,000.00</text>
<text x="1523.5" y="801.9" font-size="15.7" fill="#dddfe5" text-anchor="start" font-weight="normal" textLength="78.5" lengthAdjust="spacing" stroke="#dddfe5" stroke-width="0.45">100,000.00</text>
<text x="1523.5" y="859.5" font-size="15.7" fill="#dddfe5" text-anchor="start" font-weight="normal" textLength="70.0" lengthAdjust="spacing" stroke="#dddfe5" stroke-width="0.45">96,000.00</text>
<text x="1523.5" y="903.0" font-size="15.7" fill="#dddfe5" text-anchor="start" font-weight="normal" textLength="70.0" lengthAdjust="spacing" stroke="#dddfe5" stroke-width="0.45">93,000.00</text>
<text x="1523.5" y="996.3" font-size="15.7" fill="#dddfe5" text-anchor="start" font-weight="normal" textLength="70.0" lengthAdjust="spacing" stroke="#dddfe5" stroke-width="0.45">87,000.00</text>
<text x="1523.5" y="1044.8" font-size="15.7" fill="#dddfe5" text-anchor="start" font-weight="normal" textLength="70.0" lengthAdjust="spacing" stroke="#dddfe5" stroke-width="0.45">84,000.00</text>
<text x="1523.5" y="1095.6" font-size="15.7" fill="#dddfe5" text-anchor="start" font-weight="normal" textLength="70.0" lengthAdjust="spacing" stroke="#dddfe5" stroke-width="0.45">81,000.00</text>
<text x="1523.5" y="1148.0" font-size="15.7" fill="#dddfe5" text-anchor="start" font-weight="normal" textLength="70.0" lengthAdjust="spacing" stroke="#dddfe5" stroke-width="0.45">78,000.00</text>
<text x="1523.5" y="1194.3" font-size="15.7" fill="#dddfe5" text-anchor="start" font-weight="normal" textLength="70.0" lengthAdjust="spacing" stroke="#dddfe5" stroke-width="0.45">75,500.00</text>
<text x="1523.5" y="1240.4" font-size="15.7" fill="#dddfe5" text-anchor="start" font-weight="normal" textLength="70.0" lengthAdjust="spacing" stroke="#dddfe5" stroke-width="0.45">73,000.00</text>
<text x="1523.5" y="1286.8" font-size="15.7" fill="#dddfe5" text-anchor="start" font-weight="normal" textLength="70.0" lengthAdjust="spacing" stroke="#dddfe5" stroke-width="0.45">70,600.00</text>
<text x="1523.5" y="1334.8" font-size="15.7" fill="#dddfe5" text-anchor="start" font-weight="normal" textLength="70.0" lengthAdjust="spacing" stroke="#dddfe5" stroke-width="0.45">68,200.00</text>
<text x="1523.5" y="1377.1" font-size="15.7" fill="#dddfe5" text-anchor="start" font-weight="normal" textLength="70.0" lengthAdjust="spacing" stroke="#dddfe5" stroke-width="0.45">66,200.00</text>
<text x="1523.5" y="1419.1" font-size="15.7" fill="#dddfe5" text-anchor="start" font-weight="normal" textLength="70.0" lengthAdjust="spacing" stroke="#dddfe5" stroke-width="0.45">64,200.00</text>
<text x="1523.5" y="1463.4" font-size="15.7" fill="#dddfe5" text-anchor="start" font-weight="normal" textLength="70.0" lengthAdjust="spacing" stroke="#dddfe5" stroke-width="0.45">62,200.00</text>
<text x="1523.5" y="1503.6" font-size="15.7" fill="#dddfe5" text-anchor="start" font-weight="normal" textLength="70.0" lengthAdjust="spacing" stroke="#dddfe5" stroke-width="0.45">60,400.00</text>
<g clip-path="url(#lblclip)">
<text x="1523.5" y="948.9" font-size="15.7" fill="#dddfe5" text-anchor="start" font-weight="normal" textLength="70" lengthAdjust="spacing" stroke="#dddfe5" stroke-width="0.45">90,000.00</text>
</g>
<rect x="1511.3" y="903.9" width="88.2" height="42.3" rx="2.5" ry="2.5" fill="#e4484f"/>
<text x="1523.5" y="921.2" font-size="15.7" fill="#ffffff" text-anchor="start" font-weight="normal" textLength="70" lengthAdjust="spacing" stroke="#fff" stroke-width="0.3">91,900.00</text>
<text x="1523.5" y="939.8" font-size="15.7" fill="#f8cfd1" text-anchor="start" font-weight="normal" textLength="46" lengthAdjust="spacing">1d 17h</text>
<text x="11.6" y="1532.6" font-size="15.7" fill="#dddfe5" text-anchor="middle" font-weight="normal" stroke="#dddfe5" stroke-width="0.45">Sep</text>
<text x="91.2" y="1532.6" font-size="15.7" fill="#dddfe5" text-anchor="middle" font-weight="normal" stroke="#dddfe5" stroke-width="0.45">Oct</text>
<text x="170.9" y="1532.6" font-size="15.7" fill="#dddfe5" text-anchor="middle" font-weight="normal" stroke="#dddfe5" stroke-width="0.45">Nov</text>
<text x="250.5" y="1532.6" font-size="15.7" fill="#dddfe5" text-anchor="middle" font-weight="normal" stroke="#dddfe5" stroke-width="0.45">Dec</text>
<text x="330.2" y="1532.6" font-size="15.7" fill="#e9eaee" text-anchor="middle" font-weight="bold" >2025</text>
<text x="417.8" y="1532.6" font-size="15.7" fill="#dddfe5" text-anchor="middle" font-weight="normal" stroke="#dddfe5" stroke-width="0.45">Feb</text>
<text x="489.5" y="1532.6" font-size="15.7" fill="#dddfe5" text-anchor="middle" font-weight="normal" stroke="#dddfe5" stroke-width="0.45">Mar</text>
<text x="569.1" y="1532.6" font-size="15.7" fill="#dddfe5" text-anchor="middle" font-weight="normal" stroke="#dddfe5" stroke-width="0.45">Apr</text>
<text x="648.8" y="1532.6" font-size="15.7" fill="#dddfe5" text-anchor="middle" font-weight="normal" stroke="#dddfe5" stroke-width="0.45">May</text>
<text x="736.4" y="1532.6" font-size="15.7" fill="#dddfe5" text-anchor="middle" font-weight="normal" stroke="#dddfe5" stroke-width="0.45">Jun</text>
<text x="816.0" y="1532.6" font-size="15.7" fill="#dddfe5" text-anchor="middle" font-weight="normal" stroke="#dddfe5" stroke-width="0.45">Jul</text>
<text x="895.7" y="1532.6" font-size="15.7" fill="#dddfe5" text-anchor="middle" font-weight="normal" stroke="#dddfe5" stroke-width="0.45">Aug</text>
<text x="975.3" y="1532.6" font-size="15.7" fill="#dddfe5" text-anchor="middle" font-weight="normal" stroke="#dddfe5" stroke-width="0.45">Sep</text>
<text x="1055.0" y="1532.6" font-size="15.7" fill="#dddfe5" text-anchor="middle" font-weight="normal" stroke="#dddfe5" stroke-width="0.45">Oct</text>
<text x="1142.6" y="1532.6" font-size="15.7" fill="#dddfe5" text-anchor="middle" font-weight="normal" stroke="#dddfe5" stroke-width="0.45">Nov</text>
<text x="1222.2" y="1532.6" font-size="15.7" fill="#dddfe5" text-anchor="middle" font-weight="normal" stroke="#dddfe5" stroke-width="0.45">Dec</text>
<text x="1301.9" y="1532.6" font-size="15.7" fill="#e9eaee" text-anchor="middle" font-weight="bold" >2026</text>
<text x="1389.5" y="1532.6" font-size="15.7" fill="#dddfe5" text-anchor="middle" font-weight="normal" stroke="#dddfe5" stroke-width="0.45">Feb</text>
<text x="1461.2" y="1532.6" font-size="15.7" fill="#dddfe5" text-anchor="middle" font-weight="normal" stroke="#dddfe5" stroke-width="0.45">Mar</text>
<rect x="1605" y="0" width="3" height="1542" fill="#000"/>
<rect x="0" y="1537" width="1608" height="5" fill="#000"/>
<rect x="0" y="0" width="1" height="1542" fill="#000"/>
</svg></body></html>
